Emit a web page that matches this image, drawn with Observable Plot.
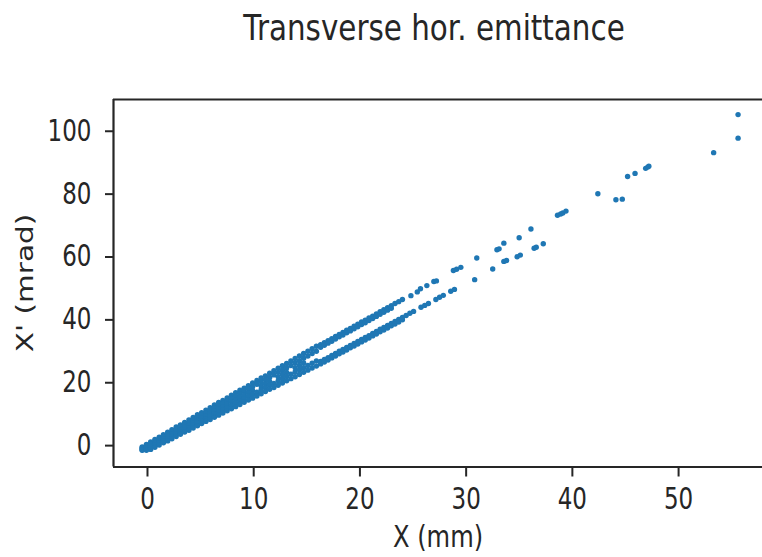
<!DOCTYPE html>
<html><head><meta charset="utf-8">
<script src="https://cdn.jsdelivr.net/npm/d3@7"></script>
<script src="https://cdn.jsdelivr.net/npm/@observablehq/plot@0.6"></script>
<style>
body{margin:0;background:#fff;}
#chart{width:762px;height:557px;overflow:hidden;}
</style>
</head><body><div id="chart"></div>
<script>
// ---- text ----
const titleText = "Transverse hor. emittance";
const xLabelText = "X (mm)";
const yLabelText = "X' (mrad)";
// ---- ticks / domains ----
const xTicks = [0, 10, 20, 30, 40, 50];
const yTicks = [0, 20, 40, 60, 80, 100];
const xDomain = [-3.2, 57.9];
const yDomain = [-6.8, 110.1];

// ---- dense core of the beam (x in mm), five strands read across the band (x' in mrad) ----
const coreX  = [-0.5,-0.1,0.3,0.7,1.1,1.5,1.9,2.3,2.7,3.1,3.5,3.9,4.3,4.7,5.1,5.5,5.9,6.3,6.7,7.1,7.5,7.9,8.3,8.7,9.1,9.5,9.9,10.3,10.7,11.1,11.5,11.9,12.3,12.7,13.1,13.5,13.9,14.3,14.7,15.1,15.5,15.9];
const coreY1 = [-0.4,0.4,1.2,2.0,2.7,3.5,4.3,5.1,5.9,6.6,7.4,8.2,9.0,9.8,10.5,11.3,12.1,12.9,13.7,14.4,15.2,16.0,16.8,17.6,18.3,19.1,19.9,20.7,21.5,22.2,23.0,23.8,24.6,25.4,26.1,26.9,27.7,28.5,29.3,30.0,30.8,31.6];
const coreY2 = [-0.7,-0.1,0.6,1.4,2.1,2.9,3.6,4.4,5.2,5.9,6.7,7.4,8.2,8.9,9.7,10.4,11.2,12.0,12.7,13.4,14.2,15.0,15.7,16.5,17.2,18.0,18.7,19.5,20.3,21.0,21.7,22.5,23.3,24.0,24.7,25.5,26.3,27.0,27.8,28.5,29.3,30.0];
const coreY3 = [-1.0,-0.6,0.0,0.8,1.5,2.2,2.9,3.7,4.4,5.1,5.9,6.5,7.3,8.0,8.8,9.5,10.2,11.0,11.7,12.4,13.1,13.9,14.6,15.3,16.0,16.8,17.5,null,19.0,19.7,20.4,null,21.9,22.6,23.3,null,24.8,25.5,26.3,null,null,null];
const coreY4 = [-1.3,-1.1,-0.6,0.2,0.9,1.6,2.2,3.0,3.7,4.4,5.1,5.7,6.5,7.2,7.9,8.6,9.3,10.0,10.7,11.4,12.1,12.8,13.5,14.2,14.9,15.7,16.3,17.0,17.8,18.5,19.2,19.8,20.6,21.3,22.0,22.7,23.4,24.1,24.8,25.5,26.2,26.9];
const coreY5 = [-1.5,-1.5,-1.2,-0.5,0.2,0.9,1.5,2.2,2.9,3.6,4.3,4.9,5.6,6.3,7.0,7.7,8.3,9.0,9.7,10.4,11.1,11.7,12.4,13.1,13.8,14.5,15.1,15.8,16.5,17.2,17.9,18.5,19.2,19.9,20.6,21.3,21.9,22.6,23.3,24.0,24.7,25.3];

// ---- upper branch (dense part) ----
const upperX  = [16.3,16.65,17.0,17.35,17.7,18.05,18.4,18.75,19.1,19.45,19.8,20.15,20.5,20.85,21.2,21.55,21.9,22.25,22.6,22.95,23.3,23.65,24.0];
const upperY1 = [32.1,32.7,33.4,34.0,34.7,35.4,36.0,36.7,37.3,38.0,38.6,39.3,39.9,40.6,41.2,41.9,42.6,43.2,43.9,44.5,45.2,45.8,46.5];
const upperY2 = [31.3,31.9,32.6,33.2,33.9,34.6,35.2,35.9,36.5,37.2,37.8,38.5,39.1,39.8,40.4,41.1,41.8,42.4,43.1,43.7,null,null,null];

// ---- lower branch (dense part) ----
const lowerX  = [16.3,16.65,17.0,17.35,17.7,18.05,18.4,18.75,19.1,19.45,19.8,20.15,20.5,20.85,21.2,21.55,21.9,22.25,22.6,22.95,23.3,23.65,24.0,24.35,24.7,25.05,25.4,25.75,26.1,26.45,26.8,27.15,27.5,27.85,28.2,28.55,28.9];
const lowerY1 = [26.8,27.4,28.0,28.7,29.3,30.0,30.6,31.2,31.9,32.5,33.1,33.8,34.4,35.0,35.7,36.3,37.0,37.6,38.2,38.9,39.5,40.1,40.8,41.4,42.1,42.7,null,44.0,44.6,45.2,null,46.5,47.2,47.8,null,49.1,49.7];
const lowerY2 = [26.0,26.6,27.2,27.9,28.5,29.2,29.8,30.4,31.1,31.7,32.3,33.0,33.6,34.2,34.9,35.5,36.2,36.8,37.4,38.1,38.7,39.3,40.0,null,null,null,null,null,null,null,null,null,null,null,null,null,null];

// ---- sparse halo particles ----
const haloX = [24.8,25.4,25.7,26.3,26.96,27.2,28.8,29.1,29.5,31.0,32.9,33.1,33.55,34.99,36.1,38.6,38.9,39.1,39.4,42.4,45.2,45.9,46.9,47.1,47.2,55.6, 30.8,32.5,33.55,33.8,34.8,35.1,36.4,36.6,37.26,44.1,44.7,53.3,55.6];
const haloY = [47.7,48.9,49.9,50.9,52.2,52.4,55.7,56.1,56.7,59.7,62.3,62.6,64.4,66.1,68.9,73.3,73.7,74.0,74.6,80.1,85.6,86.6,88.2,88.6,88.9,105.3, 52.8,56.2,58.6,58.9,60.1,60.6,62.8,63.1,64.2,78.2,78.4,93.2,97.8];

// ---- build the point table ----
const points = [];
coreX.forEach((x, i) => [coreY1, coreY2, coreY3, coreY4, coreY5].forEach(ys => { if (ys[i] != null) points.push({x, y: ys[i]}); }));
upperX.forEach((x, i) => [upperY1, upperY2].forEach(ys => { if (ys[i] != null) points.push({x, y: ys[i]}); }));
lowerX.forEach((x, i) => [lowerY1, lowerY2].forEach(ys => { if (ys[i] != null) points.push({x, y: ys[i]}); }));
haloX.forEach((x, i) => points.push({x, y: haloY[i]}));

const ink = "#262626";
const chart = Plot.plot({
  width: 762, height: 557,
  marginLeft: 113, marginRight: 0, marginTop: 99, marginBottom: 90.5,
  x: {domain: xDomain},
  y: {domain: yDomain},
  style: {color: ink, fontFamily: "DejaVu Sans", fontSize: "29.5px", background: "white", overflow: "visible"},
  marks: [
    Plot.dot(points, {x: "x", y: "y", r: 2.7, fill: "#1f77b4", stroke: "none"}),
    Plot.ruleX([xDomain[0]], {stroke: ink, strokeWidth: 2.2}),
    Plot.ruleY([yDomain[0], yDomain[1]], {stroke: ink, strokeWidth: 2.2}),
    Plot.axisX({ticks: xTicks, tickSize: 10, tickPadding: 11, strokeWidth: 2, label: null}),
    Plot.axisY({ticks: yTicks, tickSize: 8, tickPadding: 14, strokeWidth: 2, label: null})
  ]
});
document.getElementById("chart").appendChild(chart);

const NS = "http://www.w3.org/2000/svg";
function squeeze(el, sx, origin) {
  const g = document.createElementNS(NS, "g");
  el.parentNode.insertBefore(g, el);
  g.appendChild(el);
  g.style.transformBox = "fill-box";
  g.style.transformOrigin = origin;
  g.style.transform = `scaleX(${sx})`;
}
chart.querySelectorAll('g[aria-label="x-axis tick label"] text').forEach(t => squeeze(t, 0.78, "center"));
chart.querySelectorAll('g[aria-label="y-axis tick label"] text').forEach(t => squeeze(t, 0.78, "right center"));

const svg = d3.select(chart);
svg.append("text").attr("transform", "translate(434,40) scale(0.84,1)")
  .attr("text-anchor", "middle").attr("font-size", 35).attr("fill", ink).text(titleText);
svg.append("text").attr("transform", "translate(438,547) scale(0.82,1)")
  .attr("text-anchor", "middle").attr("font-size", 29.5).attr("fill", ink).text(xLabelText);
svg.append("text").attr("transform", "translate(33,283) scale(0.8,1) rotate(-90)")
  .attr("text-anchor", "middle").attr("font-size", 29.5).attr("fill", ink).text(yLabelText);
</script></body></html>
